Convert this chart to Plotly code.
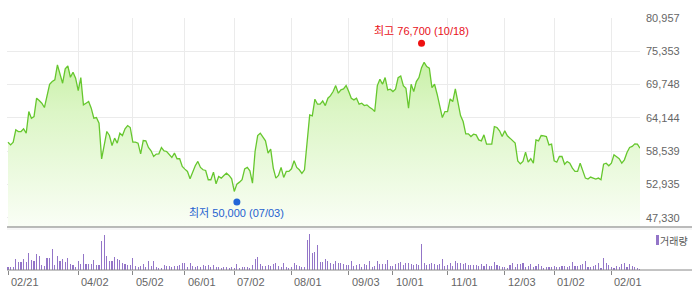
import pandas as pd
import plotly.graph_objects as go

# ---- data -------------------------------------------------------------
start_date = "2018-02-21"
end_date = "2019-02-21"
krx_holidays = ["2018-03-01", "2018-05-01", "2018-05-07", "2018-05-22", "2018-06-06",
                "2018-06-13", "2018-08-15", "2018-09-24", "2018-09-25", "2018-09-26",
                "2018-10-03", "2018-10-09", "2018-12-25", "2018-12-31", "2019-01-01",
                "2019-02-04", "2019-02-05", "2019-02-06"]

close = [
    60060, 59610, 60060, 62130, 61850, 61850, 62300, 61570, 65210, 64090,
    64370, 67460, 67060, 66620, 65890, 67900, 69810, 70260, 70540, 73060,
    71660, 69980, 72390, 72890, 70990, 71830, 70820, 68740, 70930, 66340,
    66620, 66900, 65780, 64100, 64210, 63260, 57260, 59340, 61860, 61190,
    59500, 60740, 59900, 61570, 61180, 62300, 62860, 62530, 60060, 60060,
    59900, 58100, 60340, 60290, 59170, 58610, 57660, 58050, 58100, 59170,
    58610, 58500, 57940, 57490, 58220, 57270, 57270, 55980, 55530, 55140,
    53900, 55140, 56090, 56820, 55810, 55420, 55300, 53740, 53740, 55020,
    53060, 54300, 54020, 54460, 54850, 54460, 53900, 51770, 53000, 53340,
    53740, 55580, 55810, 55250, 53170, 58500, 61180, 61570, 60840, 60290,
    58210, 58880, 55700, 54020, 54460, 55810, 54130, 55140, 55140, 55580,
    56930, 55810, 55420, 54800, 55420, 60060, 64650, 64490, 67290, 66450,
    66450, 67010, 66220, 67460, 67900, 68580, 69580, 68300, 68860, 69020,
    69580, 68580, 67460, 67180, 67460, 66450, 66620, 66220, 66340, 65950,
    65660, 65220, 69580, 70650, 69810, 70930, 68860, 68970, 68580, 68970,
    70930, 71210, 69580, 69140, 65780, 69810, 68580, 70260, 70930, 72610,
    73500, 72780, 72500, 69250, 69810, 68130, 66220, 64210, 65220, 65220,
    67340, 66900, 69020, 67010, 64540, 63530, 61460, 61460, 61010, 61400,
    61290, 60450, 60290, 61290, 59730, 59730, 59730, 62690, 62530, 61970,
    61010, 61970, 61130, 60740, 60290, 59900, 56920, 56420, 56820, 58390,
    56700, 57270, 56530, 60450, 60290, 61180, 61130, 61010, 59610, 59730,
    56920, 56700, 57650, 57650, 56360, 56810, 56530, 55690, 55140, 55140,
    56530, 55140, 54020, 53850, 54190, 54020, 53850, 54020, 53740, 56370,
    56530, 56090, 56530, 57940, 57650, 57270, 56530, 57090, 58330, 59170,
    59340, 59780, 59730, 59060,
]

volume_k = [
    100, 100, 100, 330, 250, 250, 330, 250, 500, 300,
    280, 480, 420, 150, 120, 350, 350, 620, 150, 420,
    280, 330, 250, 350, 180, 150, 100, 270, 180, 480,
    180, 180, 180, 300, 150, 150, 870, 1050, 420, 280,
    280, 380, 330, 300, 220, 170, 150, 150, 360, 120,
    100, 120, 170, 100, 270, 120, 270, 100, 50, 70,
    150, 120, 120, 100, 120, 120, 150, 220, 220, 100,
    200, 120, 100, 120, 100, 150, 120, 150, 100, 150,
    80, 80, 60, 80, 100, 70, 100, 70, 180, 50,
    100, 100, 80, 50, 150, 320, 400, 180, 120, 120,
    150, 120, 180, 200, 120, 100, 220, 100, 50, 80,
    220, 150, 120, 100, 100, 900, 1070, 520, 550, 750,
    250, 250, 330, 280, 220, 180, 280, 200, 220, 170,
    150, 150, 280, 120, 150, 180, 100, 180, 150, 280,
    80, 120, 280, 180, 180, 180, 300, 120, 120, 180,
    200, 250, 150, 200, 200, 180, 150, 170, 150, 780,
    200, 150, 180, 220, 180, 150, 170, 330, 130, 150,
    200, 120, 280, 220, 220, 180, 220, 150, 150, 150,
    150, 120, 180, 120, 180, 120, 120, 250, 150, 120,
    80, 100, 50, 150, 200, 80, 180, 180, 220, 100,
    120, 180, 100, 120, 180, 120, 50, 80, 80, 100,
    130, 100, 100, 120, 120, 100, 130, 230, 120, 130,
    150, 170, 280, 80, 100, 120, 150, 200, 70, 350,
    200, 150, 100, 70, 120, 80, 180, 200, 100, 180,
    120, 100, 50, 20,
]

tick_dates = ["2018-02-21", "2018-04-02", "2018-05-02", "2018-06-01", "2018-07-02",
              "2018-08-01", "2018-09-03", "2018-10-01", "2018-11-01", "2018-12-03",
              "2019-01-02", "2019-02-01"]
tick_labels = ["02/21", "04/02", "05/02", "06/01", "07/02", "08/01", "09/03",
               "10/01", "11/01", "12/03", "01/02", "02/01"]

price_ticks = [47330, 52935, 58539, 64144, 69748, 75353, 80957]
price_range = [45790, 80957]

high_date, high_value, high_label = "2018-10-18", 76700, "최고 76,700 (10/18)"
low_date, low_value, low_label = "2018-07-03", 50000, "최저 50,000 (07/03)"
volume_name = "거래량"

# ---- build ------------------------------------------------------------
dates = pd.bdate_range(start_date, end_date, freq="C", holidays=krx_holidays)
dates = [d.strftime("%Y-%m-%d") for d in dates]
assert len(dates) == len(close) == len(volume_k), (len(dates), len(close), len(volume_k))

LINE = "#66c72e"
GRID = "#ebebeb"
FONT = "Liberation Sans, Arial, Noto Sans CJK KR, sans-serif"
KFONT = "Liberation Sans, Noto Sans CJK KR, sans-serif"

W, H = 692, 292
ML, MR, MT, MB = 7, 52, 18, 22
PW, PH = W - ML - MR, H - MT - MB


def px_x(x):
    return (x - ML) / PW


def px_y(y):
    return (H - MB - y) / PH


fig = go.Figure()
fig.add_trace(go.Scatter(
    x=dates, y=close, mode="lines", xaxis="x", yaxis="y",
    line=dict(color=LINE, width=1.3),
    fill="tozeroy",
    fillgradient=dict(type="vertical", start=price_range[0], stop=price_range[1],
                      colorscale=[[0, "#fafef6"], [0.55, "#dcf6c6"], [1, "#b9ec8e"]]),
    hoverinfo="skip", showlegend=False,
))
fig.add_trace(go.Bar(
    x=dates, y=volume_k, xaxis="x2", yaxis="y2",
    marker=dict(color="#9375c8", line=dict(width=0)), width=0.42,
    hoverinfo="skip", showlegend=False,
))
fig.add_trace(go.Scatter(
    x=[high_date], y=[high_value], mode="markers", xaxis="x", yaxis="y",
    marker=dict(color="#ee1111", size=7), hoverinfo="skip", showlegend=False,
))
fig.add_trace(go.Scatter(
    x=[low_date], y=[low_value], mode="markers", xaxis="x", yaxis="y",
    marker=dict(color="#2266d8", size=7), hoverinfo="skip", showlegend=False,
))

n = len(dates)
xr = [-0.385, n - 1]
pdom = [px_y(227), 1.0]
vdom = [0.0, px_y(230)]

annotations = [
    dict(x=high_date, y=high_value, xref="x", yref="y", text=high_label,
         showarrow=False, yshift=12, font=dict(family=KFONT, size=11, color="#e8101a")),
    dict(x=low_date, y=low_value, xref="x", yref="y", text=low_label,
         showarrow=False, yshift=-11, font=dict(family=KFONT, size=11, color="#1f62d0")),
    dict(x=px_x(690), y=px_y(240), xref="paper", yref="paper",
         text=volume_name, showarrow=False, xanchor="right", yanchor="middle",
         font=dict(family="Noto Sans CJK KR, sans-serif", size=10, color="#555555")),
]
for d, lab in zip(tick_dates, tick_labels):
    annotations.append(dict(
        x=d, y=px_y(282), xref="x2", yref="paper", text=lab, showarrow=False,
        xanchor="left", yanchor="middle", xshift=1,
        font=dict(family=FONT, size=11, color="#666666")))

fig.update_layout(
    width=W, height=H,
    margin=dict(l=ML, r=MR, t=MT, b=MB, autoexpand=False),
    paper_bgcolor="white", plot_bgcolor="white",
    font=dict(family=FONT, size=11, color="#666666"),
    bargap=0,
    xaxis=dict(type="category", range=xr, autorange=False, domain=[0, 1], anchor="y",
               tickvals=tick_dates, showticklabels=False,
               showgrid=True, gridcolor=GRID, gridwidth=1, ticks="",
               zeroline=False, showline=False, categoryorder="array", categoryarray=dates),
    yaxis=dict(domain=pdom, range=price_range, side="right", anchor="x",
               tickvals=price_ticks, tickformat=",d", showgrid=True, gridcolor=GRID,
               gridwidth=1, ticks="", zeroline=False, showline=False,
               ticklabelstandoff=5, tickfont=dict(size=11, color="#666666")),
    xaxis2=dict(type="category", range=xr, autorange=False, domain=[0, 1], anchor="y2",
                matches="x", tickvals=tick_dates, showticklabels=False, showgrid=False,
                ticks="outside", ticklen=4, tickcolor="#888888", tickwidth=1,
                zeroline=False, showline=False, categoryorder="array", categoryarray=dates),
    yaxis2=dict(domain=vdom, range=[0, 1200], anchor="x2", visible=False),
    shapes=[
        dict(type="line", xref="paper", yref="paper", x0=0, x1=px_x(W),
             y0=pdom[0], y1=pdom[0], line=dict(color="#777777", width=1)),
        dict(type="line", xref="paper", yref="paper", x0=0, x1=px_x(W),
             y0=px_y(229), y1=px_y(229), line=dict(color="#eeeeee", width=1)),
        dict(type="line", xref="paper", yref="paper", x0=0, x1=px_x(W),
             y0=0, y1=0, line=dict(color="#888888", width=1)),
        dict(type="rect", xref="paper", yref="paper",
             x0=px_x(656), x1=px_x(659), y0=px_y(245), y1=px_y(235),
             fillcolor="#9375c8", line=dict(width=0)),
    ],
    annotations=annotations,
)

fig.write_html("out.html", config={"displayModeBar": False, "staticPlot": True})
